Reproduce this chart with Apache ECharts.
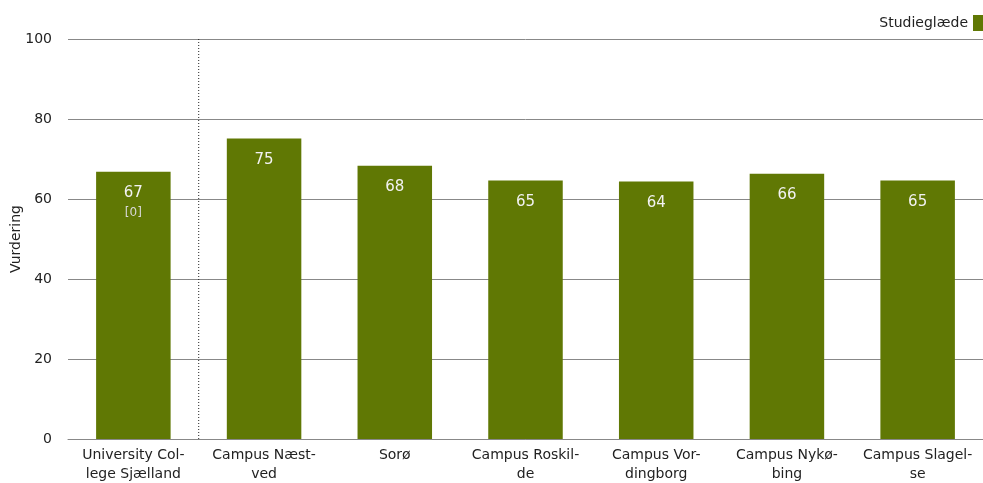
<!DOCTYPE html>
<html><head><meta charset="utf-8">
<script src="https://cdn.jsdelivr.net/npm/echarts@6/dist/echarts.min.js"></script>
<style>html,body{margin:0;padding:0;background:#fff}#c{width:983px;height:483px}</style>
</head><body><div id="c"></div>
<script>
const categories = ["University College Sjælland","Campus Næstved","Sorø","Campus Roskilde","Campus Vordingborg","Campus Nykøbing","Campus Slagelse"];
const categoryLabels = ["University Col-\nlege Sjælland","Campus Næst-\nved","Sorø","Campus Roskil-\nde","Campus Vor-\ndingborg","Campus Nykø-\nbing","Campus Slagel-\nse"];
const values = [66.8, 75.1, 68.3, 64.6, 64.4, 66.3, 64.6];
const displayValues = [67, 75, 68, 65, 64, 66, 65];
const extraNote = ["[0]", "", "", "", "", "", ""];
const yTicks = [0, 20, 40, 60, 80, 100];
const dividerAfter = 1; // dotted divider after the first category
const seriesName = "Studieglæde";

const FONT = "DejaVu Sans";
const chart = echarts.init(document.getElementById('c'));
chart.setOption({
  animation: false,
  textStyle: {fontFamily: FONT},
  grid: {left: 68, right: 0, top: 39, bottom: 44, containLabel: false, outerBoundsMode: 'none'},
  legend: {
    data: [seriesName], right: -5, top: 10, align: 'right', itemWidth: 10, itemHeight: 16, itemGap: 6,
    textStyle: {fontFamily: FONT, fontSize: 14, color: '#222'}, icon: 'rect'
  },
  xAxis: [{
    type: 'category', data: categories,
    axisLine: {show: true, lineStyle: {color: '#888', width: 1}},
    axisTick: {show: false},
    axisLabel: {
      interval: 0, fontFamily: FONT, fontSize: 14, color: '#222', lineHeight: 19, margin: 7,
      formatter: (v, i) => categoryLabels[i]
    },
    splitLine: {show: false}
  }, {
    type: 'value', min: 0, max: categories.length, show: false
  }],
  yAxis: {
    type: 'value', min: yTicks[0], max: yTicks[yTicks.length - 1], interval: 20,
    name: 'Vurdering', nameLocation: 'middle', nameGap: 45, nameRotate: 90, nameMoveOverlap: false,
    nameTextStyle: {fontFamily: FONT, fontSize: 14, color: '#222'},
    axisLine: {show: false}, axisTick: {show: false},
    axisLabel: {fontFamily: FONT, fontSize: 14, color: '#222', margin: 16},
    splitLine: {lineStyle: {color: '#888', width: 1}}
  },
  series: [{
    name: seriesName, type: 'bar', data: values, barWidth: '57%',
    itemStyle: {color: '#607804'},
    label: {
      show: true, position: 'insideTop', distance: 11,
      formatter: (p) => extraNote[p.dataIndex] ? '{a|' + displayValues[p.dataIndex] + '}\n{b|' + extraNote[p.dataIndex] + '}' : '{a|' + displayValues[p.dataIndex] + '}',
      rich: {
        a: {fontFamily: FONT, fontSize: 15, color: '#f2f2f2', lineHeight: 21},
        b: {fontFamily: FONT, fontSize: 12, color: '#d8d8d8', lineHeight: 18}
      }
    }
  }, {
    name: 'divider', type: 'line', xAxisIndex: 1, symbol: 'none', silent: true,
    data: [[dividerAfter, yTicks[0]], [dividerAfter, yTicks[yTicks.length - 1]]],
    lineStyle: {color: '#222', type: [1, 2], width: 1}
  }]
});
</script></body></html>
